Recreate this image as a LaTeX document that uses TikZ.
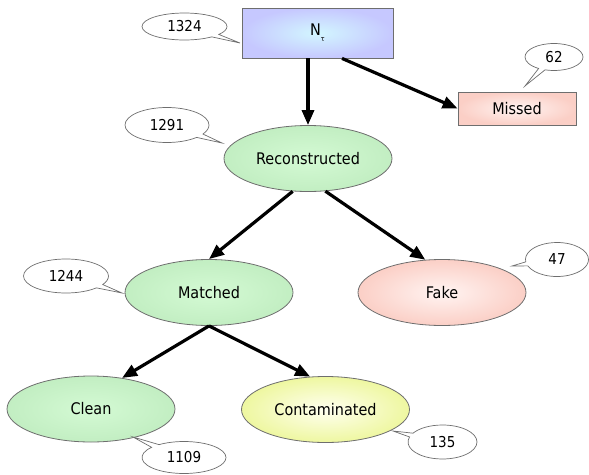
\documentclass[tikz,border=0pt]{standalone}
\usepackage{fontspec}
\setmainfont{DejaVu Sans Condensed}
\usetikzlibrary{shapes.geometric,shapes.callouts,arrows.meta}
\definecolor{edgegray}{HTML}{6E6E6E}
\definecolor{greenout}{HTML}{C2EEC2}
\definecolor{greenin}{HTML}{D4FAD4}
\definecolor{pinkout}{HTML}{FBCFC6}
\definecolor{pinkin}{HTML}{FFF4F2}
\definecolor{yelout}{HTML}{EEF7A0}
\definecolor{yelin}{HTML}{FFFFF0}
\definecolor{lavout}{HTML}{C6C8FF}
\definecolor{cyanin}{HTML}{D2F6FF}
\tikzset{
  lbl/.style={font=\fontsize{16}{19}\selectfont, text=black},
  boxnode/.style={lbl, rectangle, draw=edgegray, line width=0.8pt, inner sep=0pt},
  ellnode/.style={lbl, ellipse, draw=edgegray, line width=0.8pt, inner sep=0pt,
    minimum width=168pt, minimum height=66pt},
  greenfill/.style={inner color=greenin, outer color=greenout},
  pinkfill/.style={inner color=pinkin, outer color=pinkout},
  yelfill/.style={inner color=yelin, outer color=yelout},
  bluefill/.style={inner color=cyanin, outer color=lavout},
  note/.style={lbl, font=\fontsize{15}{18}\selectfont, ellipse callout, draw=edgegray,
    fill=white, line width=0.7pt, inner sep=0pt, callout pointer arc=14},
  flow/.style={line width=3.2pt, black, -{Triangle[length=15pt,width=12pt]}}
}
\begin{document}
\begin{tikzpicture}[x=1pt,y=-1pt]
\useasboundingbox (0,0) rectangle (589,474);

% main nodes
\node[boxnode, bluefill, minimum width=151pt, minimum height=50pt] (N) at (317.5,33)
  {N\raisebox{-6pt}{\fontsize{7}{7}\selectfont τ}};
\node[boxnode, pinkfill, minimum width=118pt, minimum height=33pt] (Mi) at (517,108.5) {Missed};
\node[ellnode, greenfill] (R) at (308,158.5) {Reconstructed};
\node[ellnode, greenfill] (Ma) at (209,292.5) {Matched};
\node[ellnode, pinkfill] (F) at (442,292.5) {Fake};
\node[ellnode, greenfill] (Cl) at (91,409) {Clean};
\node[ellnode, yelfill] (Co) at (325.5,409.5) {Contaminated};

% callouts
\node[note, minimum width=85pt, minimum height=27pt, callout absolute pointer={(240,43)}] (n1324) at (184.5,26.5) {1324};
\node[note, minimum width=58pt, minimum height=27pt, callout absolute pointer={(525,86)}] (n62) at (554,57) {62};
\node[note, minimum width=84pt, minimum height=35pt, callout absolute pointer={(222,143)}] (n1291) at (167,125) {1291};
\node[note, minimum width=85pt, minimum height=34pt, callout absolute pointer={(122,293)}] (n1244) at (66,276) {1244};
\node[note, minimum width=63pt, minimum height=34pt, callout absolute pointer={(512,266)}] (n47) at (557,259.5) {47};
\node[note, minimum width=84pt, minimum height=32pt, callout absolute pointer={(133,437)}] (n1109) at (184,457.5) {1109};
\node[note, minimum width=69pt, minimum height=34pt, callout absolute pointer={(393,431)}] (n135) at (442.5,442) {135};

% connectors
\draw[flow] ([xshift=-9.5pt]N.south) -- (R.north);
\draw[flow] ([xshift=24.5pt]N.south) -- (Mi.west);
\draw[flow] (R.-115) -- (Ma.north);
\draw[flow] (R.-62) -- (F.117);
\draw[flow] (Ma.south) -- (Cl.45);
\draw[flow] (Ma.south) -- (Co.115);
\end{tikzpicture}
\end{document}
